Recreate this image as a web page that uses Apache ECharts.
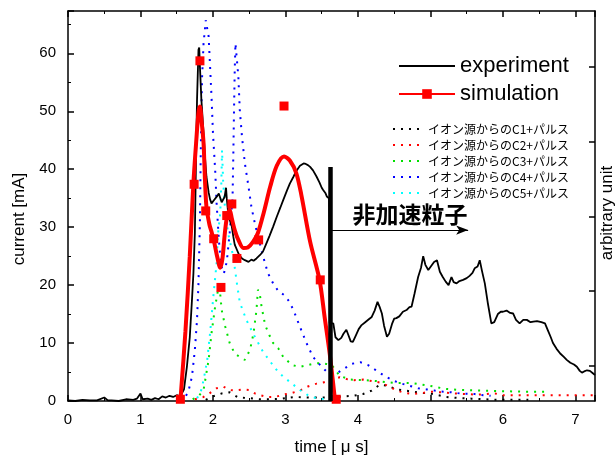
<!DOCTYPE html>
<html>
<head>
<meta charset="utf-8">
<script src="https://cdn.jsdelivr.net/npm/echarts@6/dist/echarts.min.js"></script>
<style>
html, body { margin: 0; padding: 0; background: #fff; }
#main { width: 615px; height: 457px; }
</style>
</head>
<body>
<div id="main"></div>
<script>
// 実験値 [time(us), current(mA)]
const experiment = [
  [0.0, 0.1], [0.1, 0.0], [0.2, 0.2], [0.3, 0.1], [0.4, 0.1], [0.5, 0.6], [0.55, 0.1], [0.6, 0.1],
  [0.7, 0.0], [0.8, 0.3], [0.9, 0.2], [0.95, 0.4], [1.0, 1.3], [1.03, 0.3], [1.1, 0.4], [1.15, 0.2],
  [1.2, 0.5], [1.25, 0.3], [1.3, 0.8], [1.35, 0.6], [1.4, 0.9], [1.45, 0.7], [1.5, 1.0], [1.55, 0.8],
  [1.6, 2.0], [1.64, 5.9], [1.68, 11], [1.71, 17.4], [1.73, 22], [1.75, 28.9], [1.77, 45], [1.78, 52],
  [1.8, 60.6], [1.81, 61], [1.82, 57.7], [1.84, 52], [1.87, 46.2], [1.89, 42], [1.91, 38.7], [1.94, 36],
  [1.96, 34.8], [1.98, 34.1], [2.01, 34.6], [2.03, 34.7], [2.06, 35.4], [2.08, 35.8], [2.1, 35.5],
  [2.12, 34.3], [2.14, 34.1], [2.16, 35.2], [2.18, 36.8], [2.19, 35], [2.21, 32.4], [2.23, 31.3],
  [2.26, 30.1], [2.28, 28.4], [2.3, 27.0], [2.33, 26.1], [2.36, 25.2], [2.4, 24.6], [2.44, 24.3],
  [2.49, 24.0], [2.53, 24.4], [2.56, 24.2], [2.6, 24.6], [2.65, 25.2], [2.69, 25.8], [2.73, 27.0],
  [2.78, 28.5], [2.83, 30.1], [2.88, 31.8], [2.93, 33.4], [2.97, 34.7], [3.02, 36.3], [3.06, 37.5],
  [3.11, 38.7], [3.15, 39.7], [3.2, 40.6], [3.25, 41.0], [3.28, 40.9], [3.31, 40.7], [3.34, 40.4],
  [3.38, 39.8], [3.43, 38.7], [3.47, 37.7], [3.5, 36.8], [3.52, 36.4], [3.55, 35.9], [3.57, 35.3],
  [3.6, 35.0], [3.61, 13.4], [3.66, 13.4], [3.69, 11.0], [3.73, 10.5], [3.77, 10.9], [3.8, 11.6],
  [3.84, 12.3], [3.87, 11.3], [3.9, 10.3], [3.93, 10.2], [3.97, 11.3], [4.01, 12.4], [4.05, 13.1],
  [4.1, 13.6], [4.15, 14.1], [4.19, 14.5], [4.23, 15.6], [4.27, 17.1], [4.3, 16.2], [4.33, 15.1],
  [4.36, 13.0], [4.4, 11.1], [4.43, 11.6], [4.47, 13.3], [4.5, 14.2], [4.53, 14.3], [4.57, 14.6],
  [4.62, 15.4], [4.67, 15.7], [4.71, 16.2], [4.74, 16.3], [4.78, 18.5], [4.83, 21.4], [4.87, 23.0],
  [4.9, 25.0], [4.93, 23.5], [4.97, 22.6], [5.01, 23.3], [5.05, 24.0], [5.09, 24.3], [5.13, 22.3],
  [5.17, 21.4], [5.21, 20.6], [5.25, 20.0], [5.29, 21.4], [5.32, 20.5], [5.36, 20.3], [5.4, 20.7],
  [5.45, 20.9], [5.5, 21.2], [5.54, 21.6], [5.58, 22.1], [5.61, 22.9], [5.65, 23.2], [5.68, 24.3],
  [5.71, 22.5], [5.75, 20.3], [5.79, 17.0], [5.84, 13.4], [5.88, 13.6], [5.93, 15.0], [5.97, 15.4],
  [6.0, 15.4], [6.05, 15.6], [6.1, 15.2], [6.14, 15.1], [6.18, 14.0], [6.23, 13.4], [6.28, 14.0],
  [6.33, 14.0], [6.38, 13.6], [6.42, 13.7], [6.47, 13.8], [6.53, 13.6], [6.58, 13.4], [6.62, 12.2],
  [6.66, 11.0], [6.69, 10.0], [6.74, 9.0], [6.79, 8.2], [6.84, 7.6], [6.88, 7.1], [6.93, 6.6],
  [6.98, 6.3], [7.02, 5.9], [7.06, 5.2], [7.09, 4.9], [7.12, 5.1], [7.16, 5.3], [7.2, 5.2],
  [7.24, 4.8], [7.27, 4.5]
];

// シミュレーション（曲線）
const simulationLine = [
  [1.55, 0], [1.62, 12], [1.68, 25], [1.73, 37.6], [1.77, 45], [1.8, 49.8], [1.82, 50.8], [1.845, 48],
  [1.87, 44.5], [1.89, 38], [1.91, 33.5], [1.95, 30.5], [1.98, 29.2], [2.02, 27.2], [2.06, 24.8],
  [2.1, 23.0], [2.13, 24.5], [2.16, 28.5], [2.19, 31.5], [2.23, 33.0], [2.26, 31.5], [2.3, 29.5],
  [2.35, 27.8], [2.42, 26.4], [2.48, 26.5], [2.55, 27.4], [2.62, 29.0], [2.7, 32.5], [2.79, 37.0],
  [2.88, 40.6], [2.98, 42.2], [3.06, 41.5], [3.15, 39.3], [3.22, 35.5], [3.34, 27.5], [3.47, 20.9],
  [3.54, 14.5], [3.61, 8.2], [3.68, 0.5]
];

// シミュレーション（計算点）
const simulationPoints = [
  [1.55, 0.3], [1.74, 37.4], [1.82, 58.7], [1.9, 32.8], [2.01, 28.0], [2.11, 19.6], [2.19, 32.0],
  [2.26, 34.0], [2.33, 24.6], [2.63, 27.8], [2.98, 50.9], [3.48, 20.9], [3.7, 0.3]
];

// イオン源からのパルス (arbitrary unit)
const pulseC1 = [
  [1.9, 0.2], [2.0, 0.8], [2.05, 1.0], [2.12, 1.3], [2.23, 1.5], [2.35, 0.6], [2.5, 0.5], [2.65, 0.3],
  [2.79, 0.3], [2.95, 0.4], [3.13, 0.7], [3.3, 0.6], [3.5, 0.6], [3.7, 0.7], [3.94, 0.9], [4.07, 1.2],
  [4.19, 1.8], [4.3, 2.8], [4.42, 2.6], [4.53, 2.0], [4.65, 1.8], [4.76, 1.6], [4.88, 1.4], [4.99, 1.3],
  [5.11, 1.0], [5.22, 0.7], [5.4, 0.5], [5.57, 0.4], [5.75, 0.3], [5.9, 0.2], [6.35, 0.2]
];
const pulseC2 = [
  [1.75, 0.3], [1.87, 0.7], [1.95, 1.3], [2.05, 2.2], [2.14, 2.5], [2.23, 1.9], [2.3, 1.8], [2.42, 2.0],
  [2.5, 1.9], [2.58, 1.3], [2.65, 1.0], [2.75, 0.7], [2.86, 0.7], [2.97, 1.1], [3.09, 1.4], [3.2, 1.8],
  [3.31, 2.5], [3.43, 3.0], [3.52, 3.2], [3.62, 3.6], [3.75, 4.1], [3.84, 3.8], [3.95, 3.6], [4.07, 3.7],
  [4.21, 3.4], [4.3, 3.2], [4.42, 2.6], [4.53, 1.8], [4.65, 1.4], [4.76, 1.2], [4.9, 1.4], [5.0, 1.6],
  [5.15, 1.5], [5.32, 1.3], [5.5, 1.2], [5.65, 1.1], [5.89, 1.3], [6.0, 1.0], [6.5, 1.0], [7.27, 1.0]
];
const pulseC3 = [
  [1.72, 0.3], [1.8, 0.8], [1.87, 1.9], [1.94, 7.1], [1.98, 11.7], [2.03, 16.3], [2.07, 19.2],
  [2.09, 19.8], [2.12, 15.7], [2.17, 12.8], [2.23, 10.0], [2.3, 8.2], [2.37, 7.6], [2.44, 7.1],
  [2.51, 8.8], [2.56, 11.7], [2.6, 15.7], [2.62, 19.2], [2.645, 18.5], [2.67, 16.3], [2.72, 13.1],
  [2.78, 11.3], [2.83, 10.0], [2.9, 9.1], [2.97, 7.6], [3.09, 6.2], [3.2, 5.9], [3.31, 6.2],
  [3.41, 6.5], [3.52, 6.5], [3.64, 6.2], [3.75, 4.3], [3.9, 3.7], [4.1, 3.6], [4.3, 3.4], [4.5, 3.1],
  [4.75, 3.1], [5.0, 2.6], [5.2, 2.1], [5.4, 1.9], [5.7, 1.8], [6.0, 1.7], [6.3, 1.6], [6.65, 1.6]
];
const pulseC4 = [
  [1.55, 0], [1.6, 0.3], [1.66, 1.6], [1.71, 4.2], [1.75, 8.8], [1.78, 14], [1.8, 20.3], [1.82, 31.2],
  [1.83, 41.6], [1.84, 50.2], [1.85, 56], [1.87, 61.7], [1.9, 65.7], [1.94, 62.9], [1.96, 57.7],
  [1.98, 52.5], [2.0, 46.2], [2.03, 39.9], [2.05, 34.1], [2.08, 28], [2.11, 23.5], [2.15, 22],
  [2.19, 24], [2.23, 29], [2.25, 31.8], [2.27, 35], [2.28, 42], [2.29, 50], [2.3, 57], [2.31, 61.7],
  [2.32, 62.0], [2.33, 61.7], [2.35, 56], [2.37, 50.2], [2.4, 45.6], [2.44, 41.0], [2.49, 37.0],
  [2.53, 33.5], [2.58, 30.5], [2.64, 27.5], [2.69, 25], [2.76, 22], [2.83, 20.3], [2.9, 19.0],
  [2.99, 18.2], [3.05, 17.2], [3.11, 15.7], [3.2, 12.8], [3.29, 10.0], [3.38, 7.6], [3.5, 5.9],
  [3.59, 4.8], [3.71, 4.8], [3.8, 5.5], [3.91, 6.4], [4.03, 6.7], [4.14, 6.2], [4.26, 5.2],
  [4.37, 4.3], [4.49, 3.5], [4.6, 3.0], [4.72, 2.6], [4.83, 2.2], [4.95, 2.0], [5.06, 1.8],
  [5.18, 1.6], [5.29, 1.5], [5.41, 1.3], [5.61, 1.2], [5.73, 1.0], [5.83, 0.9]
];
const pulseC5 = [
  [1.78, 0.5], [1.83, 1.5], [1.87, 3.6], [1.92, 7], [1.94, 9.4], [1.96, 11.7], [1.98, 14.5],
  [2.0, 17.4], [2.05, 23.8], [2.07, 28.9], [2.1, 32.4], [2.115, 37.6], [2.125, 43.3], [2.14, 38],
  [2.17, 32.4], [2.21, 28.9], [2.28, 24.9], [2.33, 20.3], [2.37, 17], [2.46, 14], [2.56, 11.5],
  [2.69, 8.5], [2.79, 6.8], [2.9, 5.0], [2.97, 4.2], [3.09, 3.0], [3.2, 1.9], [3.31, 1.0],
  [3.42, 0.5], [3.55, 0.3]
];

const pulseNames = [
  "イオン源からのC1+パルス",
  "イオン源からのC2+パルス",
  "イオン源からのC3+パルス",
  "イオン源からのC4+パルス",
  "イオン源からのC5+パルス"
];
const pulseColors = ["#000000", "#ff0000", "#00e000", "#0000ff", "#00ffff"];

// 右軸の目盛り位置（左軸の値）
const rightTicks = [6.0, 19.0, 31.8, 44.7, 57.6];

// 非加速粒子の境界と矢印
const cutTime = 3.614;
const cutTop = 40.4;
const arrowLevel = 29.5;
const arrowEnd = 5.52;

const fontEn = "Liberation Sans, Arial, sans-serif";
const fontJa = "Noto Sans CJK JP, sans-serif";

let myChart = echarts.init(document.getElementById("main"));

let pulses = [pulseC1, pulseC2, pulseC3, pulseC4, pulseC5];

let pulseSeries = pulses.map((data, i) => ({
  name: pulseNames[i],
  type: "line",
  data: data,
  symbol: "none",
  z: 2,
  lineStyle: {
    color: pulseColors[i],
    width: 2,
    type: [2, 6]
  },
  itemStyle: { color: pulseColors[i] }
}));

let option = {
  animation: false,
  grid: {
    left: 68,
    right: 20,
    top: 11,
    bottom: 56,
    outerBoundsMode: "none"
  },
  legend: [
    {
      data: [{ name: "experiment", itemStyle: { opacity: 0 } }, "simulation"],
      orient: "vertical",
      left: 393,
      top: 50,
      itemWidth: 56,
      itemHeight: 12,
      itemGap: 6,
      selectedMode: false,
      textStyle: { fontSize: 22, color: "#000", fontFamily: fontEn }
    },
    {
      data: pulseNames,
      orient: "vertical",
      left: 387,
      top: 118,
      itemWidth: 30,
      itemHeight: 12,
      itemGap: 4,
      selectedMode: false,
      itemStyle: { opacity: 0 },
      textStyle: { fontSize: 12, color: "#000", fontFamily: fontJa }
    }
  ],
  xAxis: [
    {
      type: "value",
      min: 0,
      max: 7.27,
      interval: 1,
      name: "time [ μ s]",
      nameLocation: "middle",
      nameGap: 38,
      nameTextStyle: { fontSize: 17, color: "#000", fontFamily: fontEn },
      axisLine: { onZero: false, lineStyle: { color: "#000", width: 1.5 } },
      axisTick: { inside: true, length: 6, lineStyle: { color: "#000", width: 1.5 } },
      minorTick: { show: true, splitNumber: 2, length: 3, lineStyle: { color: "#000", width: 1 } },
      axisLabel: { showMaxLabel: false, margin: 11, fontSize: 15, color: "#000", fontFamily: fontEn },
      splitLine: { show: false }
    },
    {
      type: "value",
      position: "top",
      min: 0,
      max: 7.27,
      interval: 1,
      axisLine: { onZero: false, lineStyle: { color: "#000", width: 1.5 } },
      axisTick: { inside: true, length: 6, lineStyle: { color: "#000", width: 1.5 } },
      minorTick: { show: true, splitNumber: 2, length: 3, lineStyle: { color: "#000", width: 1 } },
      axisLabel: { show: false },
      splitLine: { show: false }
    }
  ],
  yAxis: [
    {
      type: "value",
      min: 0,
      max: 67.3,
      interval: 10,
      name: "current [mA]",
      nameLocation: "middle",
      nameRotate: 90,
      nameGap: 40,
      nameTextStyle: { fontSize: 17, color: "#000", fontFamily: fontEn, padding: [0, 26, 0, 0] },
      axisLine: { show: true, onZero: false, lineStyle: { color: "#000", width: 1.5 } },
      axisTick: { show: true, inside: true, length: 6, lineStyle: { color: "#000", width: 1.5 } },
      minorTick: { show: true, splitNumber: 2, length: 3, lineStyle: { color: "#000", width: 1 } },
      axisLabel: { showMaxLabel: false, margin: 12, fontSize: 15, color: "#000", fontFamily: fontEn },
      splitLine: { show: false }
    },
    {
      type: "value",
      position: "right",
      min: 0,
      max: 67.3,
      name: "arbitrary unit",
      nameLocation: "middle",
      nameRotate: 90,
      nameGap: 4,
      nameTextStyle: { fontSize: 17, color: "#000", fontFamily: fontEn, padding: [0, 14, 0, 0] },
      axisLine: { show: true, onZero: false, lineStyle: { color: "#000", width: 1.5 } },
      axisTick: {
        show: true,
        inside: true,
        length: 6,
        customValues: rightTicks,
        lineStyle: { color: "#000", width: 1.5 }
      },
      axisLabel: { show: false },
      splitLine: { show: false }
    }
  ],
  series: pulseSeries.concat([
    {
      name: "experiment",
      type: "line",
      data: experiment,
      symbol: "none",
      z: 3,
      lineStyle: { color: "#000", width: 1.8 },
      itemStyle: { color: "#000" },
      markLine: {
        silent: true,
        symbol: "none",
        z: 10,
        label: { show: false },
        data: [
          [
            { coord: [cutTime, 0], lineStyle: { color: "#000", width: 4.5, type: "solid" } },
            { coord: [cutTime, cutTop] }
          ],
          [
            {
              coord: [cutTime, arrowLevel],
              symbol: "none",
              lineStyle: { color: "#000", width: 1.2, type: "solid" },
              label: {
                show: true,
                formatter: "非加速粒子",
                position: "insideMiddleTop",
                distance: 4,
                padding: [0, 0, 0, 22],
                fontSize: 23,
                fontWeight: "bold",
                color: "#000",
                fontFamily: fontJa
              }
            },
            { coord: [arrowEnd, arrowLevel], symbol: "arrow", symbolSize: [7, 12] }
          ]
        ]
      }
    },
    {
      name: "simulation",
      type: "line",
      data: simulationLine,
      smooth: 0.3,
      symbol: "rect",
      symbolSize: 9,
      showSymbol: false,
      z: 4,
      lineStyle: { color: "#ff0000", width: 4 },
      itemStyle: { color: "#ff0000" }
    },
    {
      name: "simulation",
      type: "scatter",
      data: simulationPoints,
      symbol: "rect",
      symbolSize: 9,
      z: 5,
      itemStyle: { color: "#ff0000", opacity: 1 }
    }
  ])
};

myChart.setOption(option);
</script>
</body>
</html>
